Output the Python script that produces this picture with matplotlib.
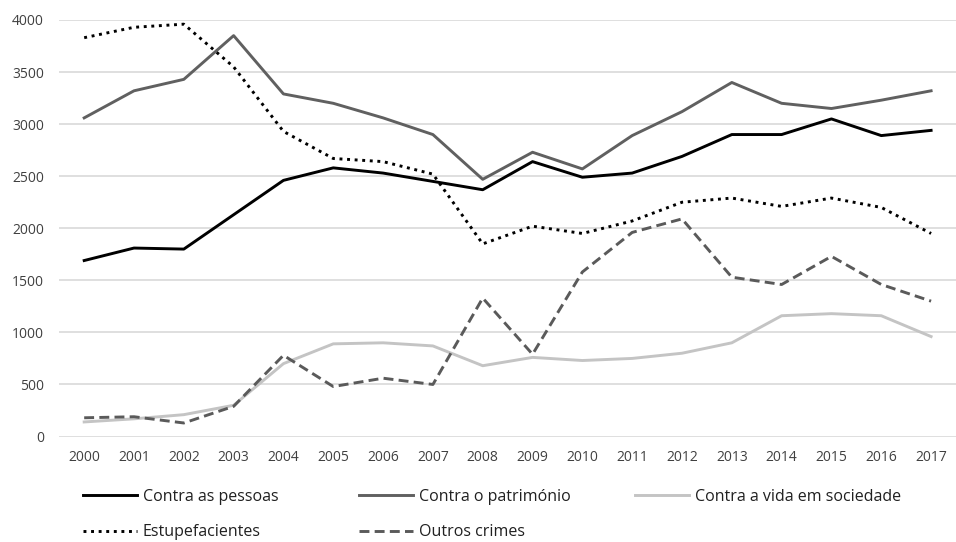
import matplotlib
matplotlib.use("Agg")
import matplotlib.pyplot as plt

plt.rcParams['font.family'] = ['Open Sans', 'DejaVu Sans']

anos = [str(a) for a in range(2000, 2018)]

pessoas = [1690, 1810, 1800, 2130, 2460, 2580, 2530, 2450, 2370, 2640,
           2490, 2530, 2690, 2900, 2900, 3050, 2890, 2940]
patrimonio = [3060, 3320, 3430, 3850, 3290, 3200, 3060, 2900, 2470, 2730,
              2570, 2890, 3120, 3400, 3200, 3150, 3230, 3320]
vida_sociedade = [140, 170, 210, 300, 700, 890, 900, 870, 680, 760,
                  730, 750, 800, 900, 1160, 1180, 1160, 960]
estupefacientes = [3830, 3930, 3960, 3550, 2930, 2670, 2640, 2520, 1850, 2020,
                   1950, 2070, 2250, 2290, 2210, 2290, 2200, 1950]
outros = [180, 190, 130, 290, 780, 480, 560, 500, 1330, 790,
          1580, 1960, 2090, 1530, 1460, 1730, 1460, 1300]

fig = plt.figure(figsize=(9.56, 5.42), dpi=100)
ax = fig.add_axes([0.062, 0.1946, 0.938, 0.7685])

x = range(len(anos))
lw = 2.1
l1, = ax.plot(x, pessoas, color='black', lw=lw, label='Contra as pessoas')
l2, = ax.plot(x, patrimonio, color='#606060', lw=lw, label='Contra o património')
l3, = ax.plot(x, vida_sociedade, color='#c4c4c4', lw=lw, label='Contra a vida em sociedade')
l4, = ax.plot(x, estupefacientes, color='black', lw=lw, linestyle=(0, (1, 1.6)),
              label='Estupefacientes')
l5, = ax.plot(x, outros, color='#5a5a5a', lw=lw, linestyle=(0, (3.4, 1.8)),
              label='Outros crimes')

ax.set_xlim(-0.5, len(anos) - 0.5)
ax.set_ylim(0, 4000)
ax.set_xticks(list(x))
ax.set_xticklabels(anos)
ax.set_yticks(range(0, 4001, 500))
ax.grid(axis='y', color='#d9d9d9', lw=1.2)
ax.set_axisbelow(True)
for s in ax.spines.values():
    s.set_visible(False)
ax.tick_params(axis='both', length=0, labelsize=10, labelcolor='#404040')
ax.tick_params(axis='y', pad=11)
ax.tick_params(axis='x', pad=10)

# legenda em três colunas
leg_kw = dict(loc='upper left', frameon=False, fontsize=11.5, handlelength=3.4,
              handletextpad=0.35, labelspacing=1.2, borderpad=0, borderaxespad=0,
              labelcolor='#202020')
top = 1 - 489 / 542
fig.legend(handles=[l1, l4], bbox_to_anchor=(83 / 956, top), **leg_kw)
fig.legend(handles=[l2, l5], bbox_to_anchor=(359 / 956, top), **leg_kw)
fig.legend(handles=[l3], bbox_to_anchor=(635 / 956, top), **leg_kw)

fig.savefig('out.png', dpi=100)
